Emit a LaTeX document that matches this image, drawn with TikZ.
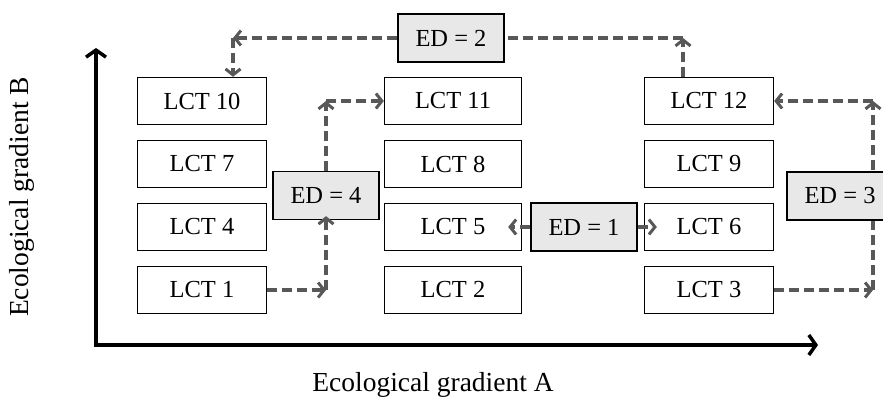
\documentclass[tikz,border=0pt]{standalone}
\usepackage{fontspec}
\setmainfont{Liberation Serif}
\usepackage{xcolor}
\usetikzlibrary{arrows.meta,positioning}
\definecolor{edgray}{RGB}{88,88,88}
\definecolor{edfill}{RGB}{232,232,232}

\begin{document}
\begin{tikzpicture}[
  x=1pt, y=-1pt,
  font=\fontsize{24.5}{28}\selectfont,
  node distance=14.7pt and 116.7pt,
  lctbox/.style={draw, line width=1.3pt, minimum width=129pt, minimum height=47pt, inner sep=0pt},
  edbox/.style={draw, line width=1.3pt, fill=edfill, minimum width=106pt, minimum height=48pt, inner sep=0pt},
  edarr/.style={-{Straight Barb[length=6pt,width=15pt,line width=3pt]}, line width=3.4pt,
                edgray, dash pattern=on 10pt off 5pt},
  edline/.style={line width=3.4pt, edgray, dash pattern=on 10pt off 5pt},
  axis/.style={{Straight Barb[length=7pt,width=20pt,line width=3.5pt]}-{Straight Barb[length=7pt,width=20pt,line width=3.5pt]},
               line width=4pt, black},
  axlabel/.style={font=\fontsize{27.5}{31}\selectfont}
]
\useasboundingbox (0,0) rectangle (883,398);
\clip (0,0) rectangle (883,398);

% land cover types
\node[lctbox] (lct10) at (202,101) {LCT 10};
\node[lctbox, below=of lct10] (lct7) {LCT 7};
\node[lctbox, below=of lct7] (lct4) {LCT 4};
\node[lctbox, below=of lct4] (lct1) {LCT 1};
\node[lctbox, minimum width=137pt, right=of lct10] (lct11) {LCT 11};
\node[lctbox, minimum width=137pt, below=of lct11] (lct8) {LCT 8};
\node[lctbox, minimum width=137pt, below=of lct8] (lct5) {LCT 5};
\node[lctbox, minimum width=137pt, below=of lct5] (lct2) {LCT 2};
\node[lctbox, right=121.7pt of lct11] (lct12) {LCT 12};
\node[lctbox, below=of lct12] (lct9) {LCT 9};
\node[lctbox, below=of lct9] (lct6) {LCT 6};
\node[lctbox, below=of lct6] (lct3) {LCT 3};

% ecological distances
\coordinate (c1) at (584,0);
\coordinate (c2l) at (233,38);
\coordinate (c2r) at (683,38);
\coordinate (c3) at (873,0);
\node[edbox] (ed2) at (451,38) {ED = 2};
\node[edbox] (ed4) at (326,195.5) {ED = 4};
\node[edbox] (ed1) at (lct5 -| c1) {ED = 1};

\draw[edarr] (ed2.west) -- (c2l);
\draw[edarr] (c2l) -- (c2l |- lct10.north);
\draw[edarr] (c2r |- lct12.north) -- (c2r);
\draw[edline] (c2r) -- (ed2.east);

\draw[edarr] (lct1.east) -- (lct1.east -| ed4);
\draw[edarr] (lct1.east -| ed4) -- ([yshift=4pt]ed4.south);
\draw[edarr] (ed4.north) -- (ed4 |- lct11);
\draw[edarr] (ed4 |- lct11) -- (lct11.west);

\draw[edarr] (ed1.west) -- ([xshift=-14pt]lct5.east);
\draw[edarr] (ed1.east) -- ([xshift=13pt]lct6.west);

\draw[edarr] (lct3.east) -- (lct3.east -| c3);
\draw[edarr] (lct3.east -| c3) -- (lct12.east -| c3);
\draw[edarr] (lct12.east -| c3) -- (lct12.east);
\node[edbox] (ed3) at (840,196) {ED = 3};

% axes
\coordinate (origin) at (96,345);
\draw[axis] (96,48) -- (origin) -- (818,345);
\node[axlabel] (xlabel) at (433,385) {Ecological gradient A};
\node[axlabel, rotate=90] (ylabel) at (22,197) {Ecological gradient B};
\end{tikzpicture}
\end{document}
